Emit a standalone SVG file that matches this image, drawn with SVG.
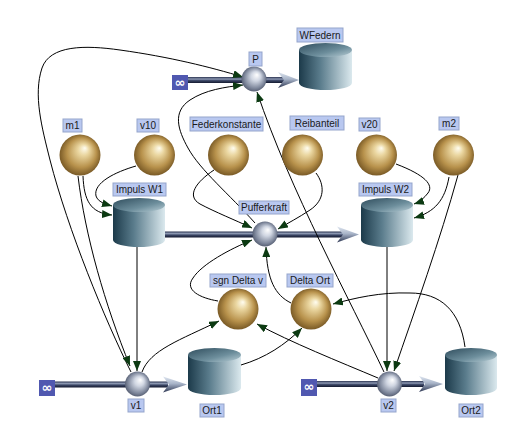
<svg xmlns="http://www.w3.org/2000/svg" width="532" height="440" viewBox="0 0 532 440">
<defs>
<style>
.lbl rect{fill:#b9c8f0;stroke:#95a5cc;stroke-width:1}
.lbl text,.lt{font-family:"Liberation Sans",Arial,sans-serif;font-size:10px;fill:#1a1a1a;text-anchor:middle}
.con{fill:none;stroke:#000;stroke-width:1;marker-end:url(#ah)}
.inf{fill:#5058b0}
.inft{font-family:"DejaVu Sans",sans-serif;font-size:13px;fill:#fff;text-anchor:middle;font-weight:bold}
.pipe{fill:url(#pipeG)}
.parr{fill:url(#parrG)}
.ball{fill:url(#goldG)}
.valve{fill:url(#valveG)}
.cylb{fill:url(#cylG)}
.cylt{fill:url(#cylTopG)}
</style>
<marker id="ah" viewBox="0 0 10 8" refX="10" refY="4" markerWidth="10" markerHeight="8" markerUnits="userSpaceOnUse" orient="auto">
<path d="M0,0 L10,4 L0,8 z" fill="#0c3a12"/>
</marker>
<radialGradient id="goldG" cx="0.5" cy="0.5" r="0.55" fx="0.62" fy="0.33">
<stop offset="0" stop-color="#fffdf0"/>
<stop offset="0.25" stop-color="#ead6a0"/>
<stop offset="0.65" stop-color="#b8924c"/>
<stop offset="1" stop-color="#6a4c1c"/>
</radialGradient>
<radialGradient id="valveG" cx="0.5" cy="0.5" r="0.55" fx="0.62" fy="0.33">
<stop offset="0" stop-color="#ffffff"/>
<stop offset="0.35" stop-color="#d0d6e2"/>
<stop offset="0.75" stop-color="#7f889c"/>
<stop offset="1" stop-color="#4a5266"/>
</radialGradient>
<linearGradient id="pipeG" x1="0" y1="0" x2="0" y2="1">
<stop offset="0" stop-color="#2a3350"/>
<stop offset="0.35" stop-color="#8e9ab4"/>
<stop offset="0.6" stop-color="#3a4564"/>
<stop offset="1" stop-color="#141a30"/>
</linearGradient>
<linearGradient id="parrG" x1="0" y1="0" x2="0" y2="1">
<stop offset="0" stop-color="#dfe6f0"/>
<stop offset="0.45" stop-color="#a8b4c8"/>
<stop offset="1" stop-color="#2c3652"/>
</linearGradient>
<linearGradient id="cylG" x1="0" y1="0" x2="1" y2="0">
<stop offset="0" stop-color="#1c3a4a"/>
<stop offset="0.4" stop-color="#5a7c8c"/>
<stop offset="1" stop-color="#dbe9ee"/>
</linearGradient>
<linearGradient id="cylTopG" x1="0" y1="0" x2="1" y2="1">
<stop offset="0" stop-color="#2e4c5c"/>
<stop offset="0.6" stop-color="#6d8e9c"/>
<stop offset="1" stop-color="#b9ced6"/>
</linearGradient>
</defs>
<rect width="532" height="440" fill="#ffffff"/>

<g id="flows">
<rect class="pipe" x="186" y="77" width="58" height="6"/>
<rect class="pipe" x="264" y="77" width="20" height="6"/>
<polygon class="parr" points="278,72 299,80 278,88 284,80"/>
<rect class="pipe" x="164" y="231.5" width="91" height="6"/>
<rect class="pipe" x="275" y="231.5" width="68" height="6"/>
<polygon class="parr" points="337,226.5 359,234.5 337,242.5 343,234.5"/>
<rect class="pipe" x="53" y="381.5" width="74" height="6"/>
<rect class="pipe" x="148" y="381.5" width="20" height="6"/>
<polygon class="parr" points="163,376.5 187,384.5 163,392.5 169,384.5"/>
<rect class="pipe" x="315" y="381" width="64" height="6"/>
<rect class="pipe" x="400" y="381" width="24" height="6"/>
<polygon class="parr" points="419,376 443,384 419,392 425,384"/>
</g>

<g id="connectors">
<path class="con" d="M131,372 C105,320 68,230 50,160 C42,128 33,95 42,68 C50,45 85,45 120,50 C170,57 210,67 243,77"/>
<path class="con" d="M78,176 C85,235 105,305 130,366"/>
<path class="con" d="M83,176 C84,200 90,213 112,215"/>
<path class="con" d="M136,166 C115,172 93,183 96,196 C98,202 105,204 112,206"/>
<path class="con" d="M137,247 L137,371"/>
<path class="con" d="M214,170 C196,182 186,196 200,204 C215,212 235,220 252,228"/>
<path class="con" d="M316,173 C325,185 325,200 310,210 C298,218 288,223 278,229"/>
<path class="con" d="M255,223 C230,195 200,170 188,148 C178,130 172,112 190,100 C205,90 225,87 243,85"/>
<path class="con" d="M384,372 C350,300 290,190 257,92"/>
<path class="con" d="M218,301 C200,298 184,290 193,278 C202,264 230,249 252,240"/>
<path class="con" d="M291,303 C275,295 267,280 266,247"/>
<path class="con" d="M142,372 C150,350 180,340 219,321"/>
<path class="con" d="M378,378 C340,362 290,342 257,324"/>
<path class="con" d="M241,365 C265,358 285,345 302,328"/>
<path class="con" d="M465,347 C460,310 440,293 410,293 C380,292 355,298 333,304"/>
<path class="con" d="M387,247 L387,371"/>
<path class="con" d="M458,175 C440,240 415,310 394,371"/>
<path class="con" d="M449,177 C445,200 435,212 414,218"/>
<path class="con" d="M396,164 C425,175 434,185 428,193 C424,198 420,202 414,204"/>
</g>

<g id="src_P"><rect class="inf" x="172" y="75" width="16" height="15"/><text class="inft" x="180" y="87">∞</text></g>
<g id="src_v1"><rect class="inf" x="39" y="380" width="16" height="16"/><text class="inft" x="47" y="392">∞</text></g>
<g id="src_v2"><rect class="inf" x="301" y="379" width="16" height="17"/><text class="inft" x="309" y="391">∞</text></g>

<g id="P"><circle class="valve" cx="254" cy="79" r="12.5"/><g class="lbl"><rect x="249" y="52" width="13" height="14"/><text x="255.5" y="63">P</text></g></g>
<g id="Pufferkraft"><circle class="valve" cx="265" cy="234" r="12.5"/><g class="lbl"><rect x="239" y="201" width="50" height="13"/><text x="264" y="211">Pufferkraft</text></g></g>
<g id="v1"><circle class="valve" cx="137.5" cy="384" r="12.5"/><g class="lbl"><rect x="128" y="399" width="16" height="13"/><text x="136" y="409">v1</text></g></g>
<g id="v2"><circle class="valve" cx="389.5" cy="384" r="12.5"/><g class="lbl"><rect x="381" y="399" width="15" height="13"/><text x="388.5" y="409">v2</text></g></g>

<g id="WFedern"><rect class="cylb" x="299" y="50" width="53" height="33"/><ellipse class="cylb" cx="325.5" cy="83" rx="26.5" ry="7"/><ellipse class="cylt" cx="325.5" cy="50" rx="26.5" ry="7"/><g class="lbl"><rect x="297" y="28" width="46" height="14"/><text x="320" y="39">WFedern</text></g></g>
<g id="ImpulsW1"><rect class="cylb" x="113" y="205" width="52" height="35"/><ellipse class="cylb" cx="139" cy="240" rx="26" ry="7"/><ellipse class="cylt" cx="139" cy="205" rx="26" ry="7"/><g class="lbl"><rect x="113" y="183" width="53" height="13"/><text x="139.5" y="193">Impuls W1</text></g></g>
<g id="ImpulsW2"><rect class="cylb" x="361" y="205" width="52" height="35"/><ellipse class="cylb" cx="387" cy="240" rx="26" ry="7"/><ellipse class="cylt" cx="387" cy="205" rx="26" ry="7"/><g class="lbl"><rect x="359" y="183" width="53" height="13"/><text x="385.5" y="193">Impuls W2</text></g></g>
<g id="Ort1"><rect class="cylb" x="188" y="355" width="53" height="33"/><ellipse class="cylb" cx="214.5" cy="388" rx="26.5" ry="7"/><ellipse class="cylt" cx="214.5" cy="355" rx="26.5" ry="7"/><g class="lbl"><rect x="200" y="404" width="24" height="13"/><text x="212" y="414">Ort1</text></g></g>
<g id="Ort2"><rect class="cylb" x="445" y="355" width="52" height="33"/><ellipse class="cylb" cx="471" cy="388" rx="26" ry="7"/><ellipse class="cylt" cx="471" cy="355" rx="26" ry="7"/><g class="lbl"><rect x="459" y="404" width="24" height="13"/><text x="471" y="414">Ort2</text></g></g>

<g id="m1"><circle class="ball" cx="80" cy="155" r="20.5"/><g class="lbl"><rect x="63" y="119" width="19" height="13"/><text x="72.5" y="129">m1</text></g></g>
<g id="v10"><circle class="ball" cx="154.5" cy="155" r="20.5"/><g class="lbl"><rect x="137" y="119" width="22" height="13"/><text x="148" y="129">v10</text></g></g>
<g id="Federkonstante"><circle class="ball" cx="228.5" cy="155" r="20.5"/><g class="lbl"><rect x="190" y="117" width="73" height="14"/><text x="226.5" y="128">Federkonstante</text></g></g>
<g id="Reibanteil"><circle class="ball" cx="302.5" cy="155" r="20.5"/><g class="lbl"><rect x="290" y="116" width="54" height="14"/><text x="317" y="127">Reibanteil</text></g></g>
<g id="v20"><circle class="ball" cx="376.5" cy="155" r="20.5"/><g class="lbl"><rect x="359" y="118" width="21" height="13"/><text x="369.5" y="128">v20</text></g></g>
<g id="m2"><circle class="ball" cx="453.5" cy="155" r="20.5"/><g class="lbl"><rect x="439" y="117" width="20" height="13"/><text x="449" y="127">m2</text></g></g>
<g id="sgnDeltav"><circle class="ball" cx="238" cy="309" r="20.5"/><g class="lbl"><rect x="210" y="274" width="56" height="13"/><text x="238" y="284">sgn Delta v</text></g></g>
<g id="DeltaOrt"><circle class="ball" cx="311" cy="309" r="20.5"/><g class="lbl"><rect x="287" y="274" width="46" height="13"/><text x="310" y="284">Delta Ort</text></g></g>
</svg>
